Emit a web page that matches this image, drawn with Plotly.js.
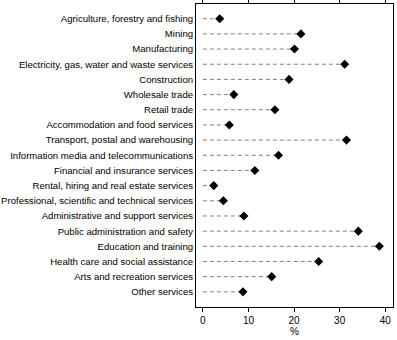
<!DOCTYPE html>
<html><head><meta charset="utf-8">
<script src="https://cdn.plot.ly/plotly-3.0.1.min.js"></script>
<style>html,body{margin:0;padding:0;background:#fff}#chart{width:397px;height:340px}</style>
</head><body><div id="chart"></div>
<script>
const categories = [
  "Agriculture, forestry and fishing",
  "Mining",
  "Manufacturing",
  "Electricity, gas, water and waste services",
  "Construction",
  "Wholesale trade",
  "Retail trade",
  "Accommodation and food services",
  "Transport, postal and warehousing",
  "Information media and telecommunications",
  "Financial and insurance services",
  "Rental, hiring and real estate services",
  "Professional, scientific and technical services",
  "Administrative and support services",
  "Public administration and safety",
  "Education and training",
  "Health care and social assistance",
  "Arts and recreation services",
  "Other services"
];
const values = [3.7, 21.5, 20.1, 31.1, 18.9, 6.8, 15.8, 5.8, 31.5, 16.6, 11.4, 2.4, 4.5, 9.0, 34.1, 38.7, 25.4, 15.1, 8.8];
const xTicks = [0, 10, 20, 30, 40];

const lx = [], ly = [];
categories.forEach((c, i) => { lx.push(0, values[i], null); ly.push(c, c, null); });

const font = "Liberation Sans Narrow, Arial Narrow, sans-serif";
const data = [
  {type:'scatter', mode:'lines', x:lx, y:ly, line:{color:'#808080', width:1, dash:'4px,3px'}, hoverinfo:'skip', showlegend:false},
  {type:'scatter', mode:'markers', x:values, y:categories, marker:{symbol:'diamond', size:7, color:'#000'}, showlegend:false}
];
const layout = {
  width:397, height:340,
  margin:{l:196, r:4, t:4, b:33},
  paper_bgcolor:'#fff', plot_bgcolor:'#fff',
  font:{family:font, size:10, color:'#000'},
  xaxis:{range:[-1.5, 41.7], tickvals:xTicks, ticks:'outside', ticklen:4, tickcolor:'#000',
         showgrid:false, zeroline:false, showline:true, linecolor:'#000', linewidth:1, mirror:'ticks',
         title:{text:'%', standoff:2, font:{family:font, size:10}}, tickfont:{family:font, size:10}},
  yaxis:{type:'category', categoryorder:'array', categoryarray:categories, range:[19.0, -0.97],
         showgrid:false, zeroline:false, showline:true, linecolor:'#000', linewidth:1, mirror:true,
         ticks:'', tickfont:{family:font, size:9.6}}
};
Plotly.newPlot('chart', data, layout, {staticPlot:true, displayModeBar:false});
</script></body></html>
